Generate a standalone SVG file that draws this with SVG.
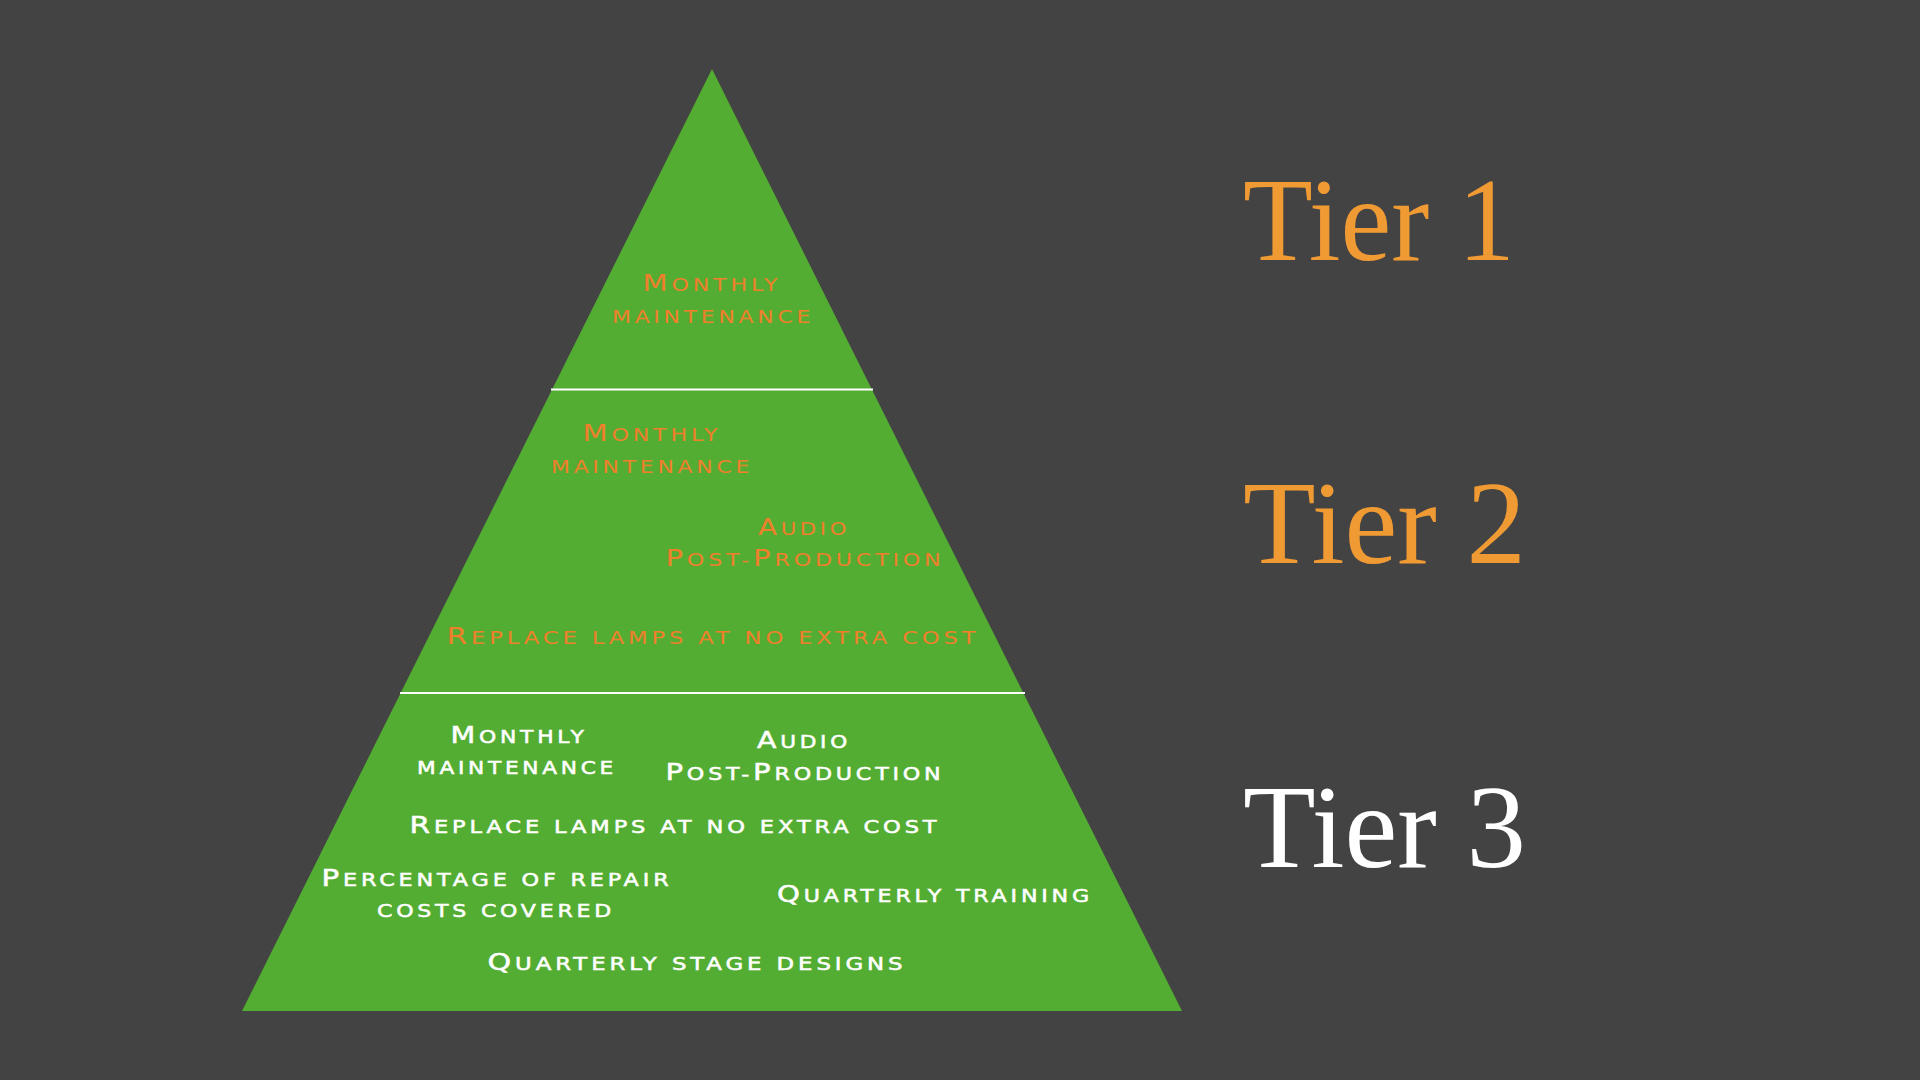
<svg xmlns="http://www.w3.org/2000/svg" width="1920" height="1080" viewBox="0 0 1920 1080">
<style>
.item{font-family:"DejaVu Sans","Liberation Sans",sans-serif;font-size:17.5px;letter-spacing:3px;text-anchor:middle}
.c{font-size:23px}
.or{fill:#F07F2C}
.wh{fill:#FFFFFF;stroke:#FFFFFF;stroke-width:0.5}
.tier{font-family:"Liberation Serif","DejaVu Serif",serif;font-size:118px}
.sep{stroke:#FFFFFF;stroke-width:2}
</style>
<rect width="1920" height="1080" fill="#434343"/>
<g id="pyramid">
<polygon points="712,69 1182,1011 242,1011" fill="#54AD33"/>
</g>
<g id="separators">
<line class="sep" x1="551" y1="389.5" x2="873" y2="389.5"/>
<line class="sep" x1="400" y1="693" x2="1025" y2="693"/>
</g>
<g id="tier1-items">
<text class="item or" x="712" y="291" textLength="139" lengthAdjust="spacingAndGlyphs"><tspan class="c">M</tspan>ONTHLY</text>
<text class="item or" x="713" y="323" textLength="202" lengthAdjust="spacingAndGlyphs">MAINTENANCE</text>
</g>
<g id="tier2-items">
<text class="item or" x="652" y="441" textLength="139" lengthAdjust="spacingAndGlyphs"><tspan class="c">M</tspan>ONTHLY</text>
<text class="item or" x="652" y="473" textLength="202" lengthAdjust="spacingAndGlyphs">MAINTENANCE</text>
<text class="item or" x="804" y="535" textLength="92" lengthAdjust="spacingAndGlyphs"><tspan class="c">A</tspan>UDIO</text>
<text class="item or" x="805" y="566" textLength="279" lengthAdjust="spacingAndGlyphs"><tspan class="c">P</tspan>OST-<tspan class="c">P</tspan>RODUCTION</text>
<text class="item or" x="713" y="644" textLength="533" lengthAdjust="spacingAndGlyphs"><tspan class="c">R</tspan>EPLACE LAMPS AT NO EXTRA COST</text>
</g>
<g id="tier3-items">
<text class="item wh" x="519" y="743" textLength="137" lengthAdjust="spacingAndGlyphs"><tspan class="c">M</tspan>ONTHLY</text>
<text class="item wh" x="517" y="774" textLength="200" lengthAdjust="spacingAndGlyphs">MAINTENANCE</text>
<text class="item wh" x="804" y="748" textLength="94" lengthAdjust="spacingAndGlyphs"><tspan class="c">A</tspan>UDIO</text>
<text class="item wh" x="805" y="780" textLength="279" lengthAdjust="spacingAndGlyphs"><tspan class="c">P</tspan>OST-<tspan class="c">P</tspan>RODUCTION</text>
<text class="item wh" x="675" y="833" textLength="531" lengthAdjust="spacingAndGlyphs"><tspan class="c">R</tspan>EPLACE LAMPS AT NO EXTRA COST</text>
<text class="item wh" x="497" y="886" textLength="351" lengthAdjust="spacingAndGlyphs"><tspan class="c">P</tspan>ERCENTAGE OF REPAIR</text>
<text class="item wh" x="496" y="917" textLength="238" lengthAdjust="spacingAndGlyphs">COSTS COVERED</text>
<text class="item wh" x="935" y="902" textLength="316" lengthAdjust="spacingAndGlyphs"><tspan class="c">Q</tspan>UARTERLY TRAINING</text>
<text class="item wh" x="697" y="970" textLength="419" lengthAdjust="spacingAndGlyphs"><tspan class="c">Q</tspan>UARTERLY STAGE DESIGNS</text>
</g>
<g id="tier-labels">
<text id="tier1" class="tier" x="1243" y="260" fill="#F09A33" textLength="272" lengthAdjust="spacingAndGlyphs">Tier 1</text>
<text id="tier2" class="tier" x="1243" y="563" fill="#F09A33" textLength="283" lengthAdjust="spacingAndGlyphs">Tier 2</text>
<text id="tier3" class="tier" x="1243" y="867" fill="#FFFFFF" textLength="283" lengthAdjust="spacingAndGlyphs">Tier 3</text>
</g>
</svg>
